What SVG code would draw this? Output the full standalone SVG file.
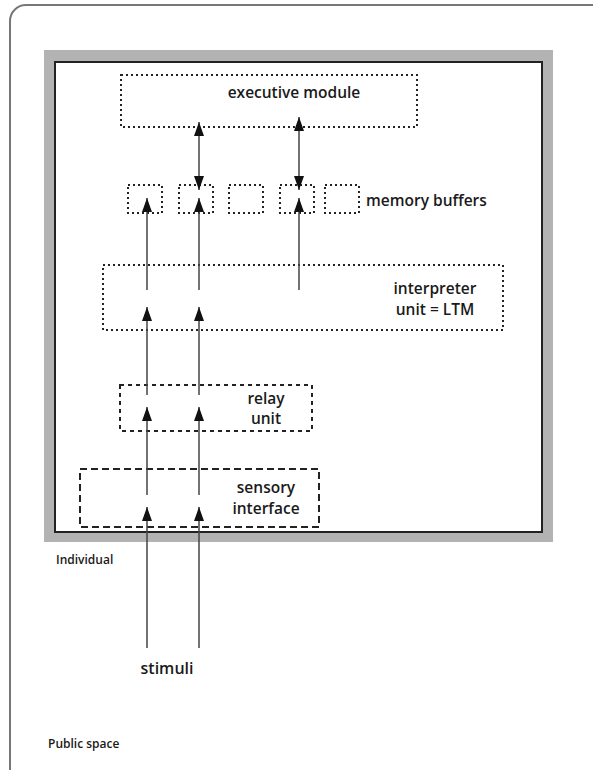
<svg xmlns="http://www.w3.org/2000/svg" width="593" height="770" viewBox="0 0 593 770">
<style>
.lbl{font-family:"Open Sans","Noto Sans",sans-serif;font-weight:600;fill:#1a1a1a;}
.dot{fill:none;stroke:#222;stroke-width:2;stroke-dasharray:2 3;}
.dash{fill:none;stroke:#222;stroke-width:2;stroke-dasharray:4 4;}
.ldash{fill:none;stroke:#222;stroke-width:2;stroke-dasharray:7 4;}
.con{stroke:#444;stroke-width:1.5;fill:none;}
</style>
<defs>
<marker id="ah" viewBox="0 0 14 10" refX="14" refY="5" markerWidth="14" markerHeight="10" markerUnits="userSpaceOnUse" orient="auto-start-reverse">
<path d="M0,0 L14,5 L0,10 z" fill="#111"/>
</marker>
</defs>
<rect width="593" height="770" fill="#fff"/>
<g id="public-space">
<rect x="10" y="5" width="620" height="800" rx="16" fill="none" stroke="#777" stroke-width="2"/>
<text class="lbl" x="48" y="748" font-size="12">Public space</text>
</g>
<g id="individual">
<rect x="44" y="50" width="509" height="492" fill="#b3b3b3"/>
<rect x="55" y="62" width="487" height="470" fill="#fff" stroke="#222" stroke-width="2"/>
<text class="lbl" x="56" y="564" font-size="12">Individual</text>
</g>
<g id="executive-module">
<rect class="dot" x="121" y="75" width="296" height="52"/>
<text class="lbl" x="294" y="98" font-size="15.5" text-anchor="middle">executive module</text>
</g>
<g id="memory-buffers">
<rect class="dot" x="128" y="185" width="34" height="28"/>
<rect class="dot" x="179" y="185" width="34" height="28"/>
<rect class="dot" x="229" y="185" width="34" height="28"/>
<rect class="dot" x="280" y="185" width="34" height="28"/>
<rect class="dot" x="325" y="185" width="34" height="28"/>
<text class="lbl" x="366" y="206" font-size="15.5">memory buffers</text>
</g>
<g id="interpreter-unit">
<rect class="dot" x="103" y="265" width="400" height="65"/>
<text class="lbl" x="435" y="294" font-size="15.5" text-anchor="middle">interpreter</text>
<text class="lbl" x="435" y="315" font-size="15.5" text-anchor="middle">unit = LTM</text>
</g>
<g id="relay-unit">
<rect class="dash" x="120" y="385" width="192" height="46"/>
<text class="lbl" x="266" y="404" font-size="15.5" text-anchor="middle">relay</text>
<text class="lbl" x="266" y="424" font-size="15.5" text-anchor="middle">unit</text>
</g>
<g id="sensory-interface">
<rect class="ldash" x="80" y="469" width="239" height="58"/>
<text class="lbl" x="266" y="493" font-size="15.5" text-anchor="middle">sensory</text>
<text class="lbl" x="266" y="514" font-size="15.5" text-anchor="middle">interface</text>
</g>
<g id="stimuli">
<text class="lbl" x="167" y="674" font-size="16" text-anchor="middle">stimuli</text>
</g>
<g id="connectors">
<line class="con" x1="147" y1="648" x2="147" y2="507" marker-end="url(#ah)"/>
<line class="con" x1="199" y1="648" x2="199" y2="507" marker-end="url(#ah)"/>
<line class="con" x1="147" y1="495" x2="147" y2="407" marker-end="url(#ah)"/>
<line class="con" x1="199" y1="495" x2="199" y2="407" marker-end="url(#ah)"/>
<line class="con" x1="147" y1="395" x2="147" y2="307" marker-end="url(#ah)"/>
<line class="con" x1="199" y1="395" x2="199" y2="307" marker-end="url(#ah)"/>
<line class="con" x1="147" y1="290" x2="147" y2="198" marker-end="url(#ah)"/>
<line class="con" x1="199" y1="290" x2="199" y2="198" marker-end="url(#ah)"/>
<line class="con" x1="299" y1="290" x2="299" y2="198" marker-end="url(#ah)"/>
<line class="con" x1="199" y1="190" x2="199" y2="122" marker-start="url(#ah)" marker-end="url(#ah)"/>
<line class="con" x1="299" y1="190" x2="299" y2="117" marker-start="url(#ah)" marker-end="url(#ah)"/>
</g>
</svg>
